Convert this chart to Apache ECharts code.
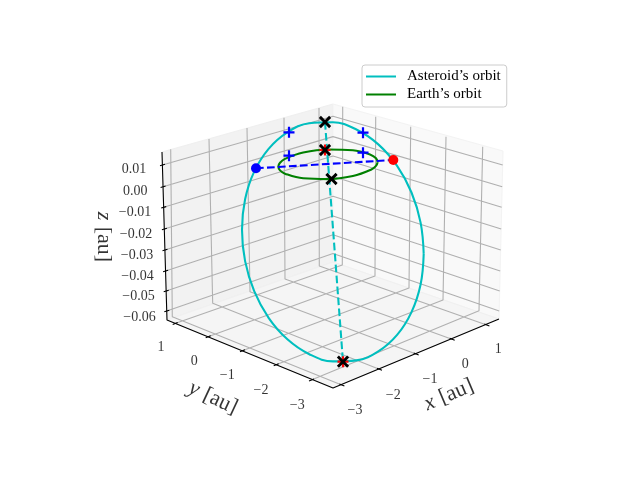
<!DOCTYPE html>
<html>
<head>
<meta charset="utf-8">
<style>html,body{margin:0;padding:0;background:#fff}#main{width:640px;height:480px}</style>
<script src="https://cdn.jsdelivr.net/npm/echarts@6/dist/echarts.min.js"></script>
</head>
<body>
<div id="main"></div>
<script>
let asteroidOrbit = [[423.7,253.9],[420.6,222.6],[411.5,192.5],[397.1,165.9],[378.3,144.4],[356.4,129.5],[332.9,122.3],[309.3,123.3],[287.4,132.3],[268.6,148.8],[254.2,171.6],[245.1,199.2],[242,229.8],[245.1,261.1],[254.2,291.2],[268.6,317.8],[287.4,339.3],[309.3,354.2],[332.9,361.4],[356.4,360.4],[378.3,351.4],[397.1,334.9],[411.5,312.1],[420.6,284.5],[423.7,253.9]]
let earthOrbit = [[377.7,162],[376,158.3],[371,154.9],[352.9,150.3],[328,149.5],[303.2,152.6],[285,158.9],[280,162.7],[278.3,166.6],[280,170.4],[285,173.7],[303.2,178.3],[328,179.1],[352.9,176],[371,169.7],[376,165.9],[377.7,162]]
let apsidesLine = [[325,122],[343,362]]
let nodesLine = [[256,168.3],[393.3,160]]
let bluePlus = [[289,132.3],[363,132.7],[289,155.7],[363,152.7]]
let blueDot = [[256,168.3]]
let redDot = [[393.3,160]]
let redPlus = [[325,150],[343,361.7]]
let blackCross = [[325,122],[325,150],[331.5,179],[343,361.7]]

let leftWall = [[162,152],[333,104],[333,262],[167,320]]
let rightWall = [[333,104],[503,151],[499,319],[333,262]]
let floorPane = [[167,320],[333,262],[499,319],[333,388]]

// z grid: left edge, back edge, right edge
let zGrid = [
  [[162.4,165],[333,116.2],[502.7,165]],
  [[163,186.7],[333,136.6],[502.2,186.7]],
  [[163.6,207.3],[333,156],[501.7,207.3]],
  [[164.3,229],[333,176.4],[501.2,229]],
  [[164.9,250],[333,196.2],[500.7,250]],
  [[165.5,271],[333,215.9],[500.2,271]],
  [[166.1,291],[333,234.7],[499.7,291]],
  [[166.7,311],[333,253.5],[499.2,311]]
]
// x = const: top of wall, bottom of wall, front axis
let xGrid = [
  [[170.7,149.3],[172.3,316.7],[341.7,385]],
  [[209,139],[212.7,303.3],[379.3,369.3]],
  [[247,128],[250,291.7],[416,354]],
  [[284,117.7],[285,279],[452,339.3]],
  [[319,108],[319.3,266],[486.7,325]]
]
// y = const: top of wall, bottom of wall, left axis
let yGrid = [
  [[342.7,106.7],[342.3,265],[175,323.5]],
  [[375.7,116.7],[375,276],[208,336.7]],
  [[410.7,126.7],[409,288],[242.3,350.7]],
  [[446,136.7],[443,300],[276,364.7]],
  [[482.7,146.7],[479,310.7],[311.3,380]]
]
let axisLines = [[[162,152],[167,320],[333,388],[499,319]]]
let zTicks = [[[160,165.8],[165,164.2]],[[160.6,187.5],[165.6,186]],[[161.2,208],[166.2,206.6]],[[161.9,229.8],[166.9,228.2]],[[162.5,250.8],[167.5,249.2]],[[163.1,271.8],[168.1,270.2]],[[163.7,291.8],[168.7,290.2]],[[164.3,311.8],[169.3,310.2]]]
let yTicks = [[[172.7,324.4],[177.7,322.5]],[[205.7,337.7],[210.7,335.7]],[[240,351.7],[245,349.7]],[[273.7,365.7],[278.7,363.7]],[[309,381],[314,379]]]
let xTicks = [[[339.4,384],[344.4,386]],[[377,368.3],[382,370.3]],[[413.7,353],[418.7,355]],[[449.7,338.3],[454.7,340.3]],[[484.4,324],[489.4,326]]]

let zTickLabels = ['0.01','0.00','−0.01','−0.02','−0.03','−0.04','−0.05','−0.06']
let zLabelPos = [[134,169.3],[135.3,191],[135,212.3],[136,234],[137,255],[137.5,276],[138.5,296],[139.5,317.7]]
let yTickLabels = ['1','0','−1','−2','−3']
let yLabelPos = [[161,347.3],[194.3,361],[227.3,375.7],[261,390],[297.3,405.7]]
let xTickLabels = ['−3','−2','−1','0','1']
let xLabelPos = [[355,410.7],[393.3,395],[430,379.3],[465.3,364],[498.3,349.3]]

const FONT = '"Liberation Serif", serif'
const PLUS = 'path://M40 0h20v40h40v20H60v40H40V60H0V40h40z'

let dom = document.getElementById('main')
let myChart = echarts.init(dom)

let segments = function(lines){
  let out = []
  lines.forEach(function(l){
    out = out.concat(l)
    out.push(['-','-'])
  })
  return out
}
let pane = function(points, fill, stroke){
  return {
    type:'custom',
    silent:true,
    z:1,
    clip:false,
    data:[0],
    renderItem:function(params, api){
      return {
        type:'polygon',
        shape:{points:points.map(function(p){ return api.coord(p) })},
        style:{fill:fill, stroke:stroke, lineWidth:1}
      }
    }
  }
}
let lines = function(list, color, width, z){
  return {
    type:'line',
    silent:true,
    z:z,
    symbol:'none',
    connectNulls:false,
    lineStyle:{color:color, width:width},
    data:segments(list)
  }
}
let curve = function(name, data, color, z){
  return {
    name:name,
    type:'line',
    silent:true,
    z:z,
    symbol:'none',
    smooth:0.4,
    lineStyle:{color:color, width:2.08},
    itemStyle:{color:color},
    data:data
  }
}
let dashed = function(data, color, z){
  return {
    type:'line',
    silent:true,
    z:z,
    symbol:'none',
    lineStyle:{color:color, width:2.08, type:[7.7,3.3]},
    data:data
  }
}
let marks = function(data, symbol, size, color, z, rotate){
  return {
    type:'scatter',
    silent:true,
    z:z,
    symbol:symbol,
    symbolSize:size,
    symbolRotate:rotate || 0,
    itemStyle:{color:color, opacity:1},
    data:data
  }
}
let texts = function(positions, labels){
  return {
    type:'scatter',
    silent:true,
    z:20,
    symbolSize:1,
    itemStyle:{color:'transparent'},
    data:positions.map(function(p, i){ return {value:p, name:labels[i]} }),
    label:{
      show:true,
      position:'inside',
      formatter:'{b}',
      color:'#000',
      fontFamily:FONT,
      fontSize:14
    }
  }
}
let title = function(pos, varName, rotate){
  return {
    type:'scatter',
    silent:true,
    z:20,
    symbolSize:1,
    itemStyle:{color:'transparent'},
    data:[pos],
    label:{
      show:true,
      position:'inside',
      rotate:rotate,
      formatter:'{i|' + varName + '} {r|[au]}',
      rich:{
        i:{fontFamily:FONT, fontStyle:'italic', fontSize:22, padding:[0,3,0,0], color:'#000'},
        r:{fontFamily:FONT, fontSize:22, color:'#000'}
      }
    }
  }
}

let option = {
  animation:false,
  backgroundColor:'#fff',
  grid:{left:0, right:0, top:0, bottom:0},
  xAxis:{type:'value', min:0, max:640, show:false},
  yAxis:{type:'value', min:0, max:480, inverse:true, show:false},
  legend:{
    left:362,
    top:65,
    orient:'vertical',
    icon:'rect',
    padding:[4,6,5,4],
    itemWidth:30,
    itemHeight:2,
    itemGap:3,
    backgroundColor:'rgba(255,255,255,.8)',
    borderColor:'#ccc',
    borderWidth:1,
    borderRadius:3,
    textStyle:{fontFamily:FONT, fontSize:15, lineHeight:15, color:'#000', padding:[0,0,0,6]},
    data:['Asteroid’s orbit','Earth’s orbit']
  },
  series:[
    pane(leftWall, '#f2f2f2', '#efefef'),
    pane(rightWall, '#f9f9f9', '#f3f3f3'),
    pane(floorPane, '#f5f5f5', '#f0f0f0'),
    lines(zGrid.concat(xGrid, yGrid), '#b0b0b0', 1.1, 2),
    lines(axisLines, '#000', 1.1, 3),
    lines(zTicks.concat(yTicks, xTicks), '#000', 1.1, 3),
    curve('Asteroid’s orbit', asteroidOrbit, '#00bfbf', 10),
    dashed(apsidesLine, '#00bfbf', 11),
    curve('Earth’s orbit', earthOrbit, '#008000', 12),
    dashed(nodesLine, '#0000ff', 13),
    marks(bluePlus, PLUS, 11, '#0000ff', 14),
    marks(blueDot, 'circle', 10, '#0000ff', 15),
    marks(redDot, 'circle', 10, '#ff0000', 15),
    marks(redPlus, PLUS, 11, '#ff0000', 16),
    marks(blackCross, PLUS, 14.5, '#000', 17, 45),
    texts(zLabelPos, zTickLabels),
    texts(yLabelPos, yTickLabels),
    texts(xLabelPos, xTickLabels),
    title([449,395], 'x', 23),
    title([213,398], 'y', -25),
    title([104,237], 'z', -90)
  ]
}

myChart.setOption(option, true)
</script>
</body>
</html>
